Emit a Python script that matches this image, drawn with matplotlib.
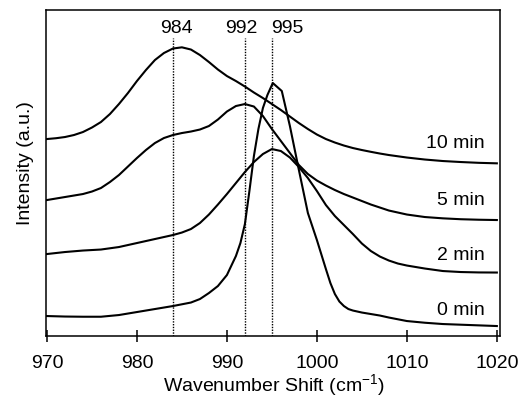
import numpy as np
import matplotlib
matplotlib.use("Agg")
import matplotlib.pyplot as plt

plt.rcParams['font.family'] = ['Liberation Sans', 'DejaVu Sans']
plt.rcParams['mathtext.fontset'] = 'custom'
plt.rcParams['mathtext.rm'] = 'Liberation Sans'

# Raman spectra (intensity in arbitrary units)
wn_10 = [970, 971, 972, 973, 974, 975, 976, 977, 978, 979, 980, 981, 982, 983,
         984, 985, 986, 987, 988, 989, 990, 991, 992, 993, 994, 995, 996, 997,
         998, 999, 1000, 1001, 1002, 1003, 1004, 1005, 1006, 1007, 1008, 1010,
         1012, 1014, 1016, 1018, 1020]
int_10 = [197, 197.8, 199, 201, 204, 208.5, 214, 222, 232, 243, 255, 266, 276, 283,
          287.5, 288.7, 286.5, 281, 274, 266.5, 260, 255, 249.5, 243.5, 238, 232,
          226, 219.5, 213, 207, 201.5, 197, 193.5, 190.5, 188, 186, 184.2, 182.5,
          181, 178.5, 176.5, 175, 174, 173.2, 172.7]

wn_5 = [970, 971, 972, 973, 974, 975, 976, 977, 978, 979, 980, 981, 982, 983, 984,
        985, 986, 987, 988, 989, 990, 991, 992, 993, 994, 995, 996, 997, 998, 999,
        1000, 1001, 1002, 1003, 1004, 1005, 1006, 1007, 1008, 1009, 1010, 1012,
        1014, 1016, 1018, 1020]
int_5 = [136, 137.5, 139, 140.5, 142, 144.5, 148, 154, 161, 169.5, 178, 186, 193,
         198, 201, 203, 204.5, 206.5, 210, 216.5, 224.5, 230, 232, 229.5, 220, 207,
         195, 183, 171, 162, 155.5, 150.5, 146, 142, 138.5, 135, 131.5, 128.5,
         125.5, 123.5, 121.5, 119, 117.7, 116.8, 116.3, 116]

wn_2 = [970, 972, 974, 976, 978, 980, 982, 984, 985, 986, 987, 988, 989, 990, 991,
        992, 993, 994, 995, 996, 997, 998, 999, 1000, 1001, 1002, 1003, 1004, 1005,
        1006, 1007, 1008, 1009, 1010, 1012, 1014, 1016, 1018, 1020]
int_2 = [82, 84, 85.5, 86.5, 89, 93, 97, 101, 103.5, 107, 113, 121.5, 131.5, 142,
         153, 164, 174, 182, 187, 185, 178.5, 169, 158, 145, 131, 120, 111, 102,
         92.5, 85, 79.5, 75.5, 72.5, 70.5, 67.5, 65, 64, 63.6, 63.5]

wn_0 = [970, 972, 974, 976, 978, 980, 982, 984, 986, 987, 988, 989, 990, 991, 991.5,
        992, 992.5, 993, 993.5, 994, 994.5, 995.1, 996.1, 997, 998, 999, 1000,
        1001, 1001.5, 1002, 1002.5, 1003, 1003.5, 1004, 1005, 1006, 1007, 1008,
        1010, 1012, 1014, 1017, 1020]
int_0 = [20, 19.5, 19.3, 19.3, 21, 24, 27, 30, 33.5, 37, 43, 50, 61, 80, 93,
         112, 145, 180, 207, 228, 241, 253, 245, 210, 166, 123, 96,
         67, 53, 42, 34.5, 30, 27, 25.5, 23.5, 22, 20.5, 18.5,
         15, 13.3, 12, 11, 10]

peak_pos = [984, 992, 995]
peak_text = ['984', '992', '995']
peak_text_x = [984.4, 991.6, 996.7]

series = [(wn_10, int_10, '10 min', 193),
          (wn_5, int_5, '5 min', 136),
          (wn_2, int_2, '2 min', 81),
          (wn_0, int_0, '0 min', 26)]

fig = plt.figure(figsize=(5.23, 4.01), dpi=100)
ax = fig.add_axes([0.0889, 0.162, 0.868, 0.813])

for wn, inten, name, ly in series:
    ax.plot(wn, inten, color='black', lw=1.5)
    ax.text(1018.6, ly, name, ha='right', va='center', fontsize=14)

# dotted markers at the band positions
ax.vlines(peak_pos, 0, 298, colors='black', linestyles=(0, (1, 1)), lw=1.0)
for xp, t in zip(peak_text_x, peak_text):
    ax.text(xp, 308, t, ha='center', va='center', fontsize=14)

ax.set_xlim(969.95, 1020.4)
ax.set_ylim(0, 326)
ax.set_yticks([])
ax.set_xticks(np.arange(970, 1021, 10))
ax.tick_params(axis='x', direction='inout', length=8.6, width=1.1,
               labelsize=14, pad=9)
for sp in ax.spines.values():
    sp.set_linewidth(1.1)

ax.set_xlabel('Wavenumber Shift (cm$^{\\mathregular{-1}}$)', fontsize=14)
ax.set_ylabel('Intensity (a.u.)', fontsize=14)
ax.xaxis.set_label_coords(0.5, -0.113)
ax.yaxis.set_label_coords(-0.028, 0.53)

fig.savefig('out.png', dpi=100)
